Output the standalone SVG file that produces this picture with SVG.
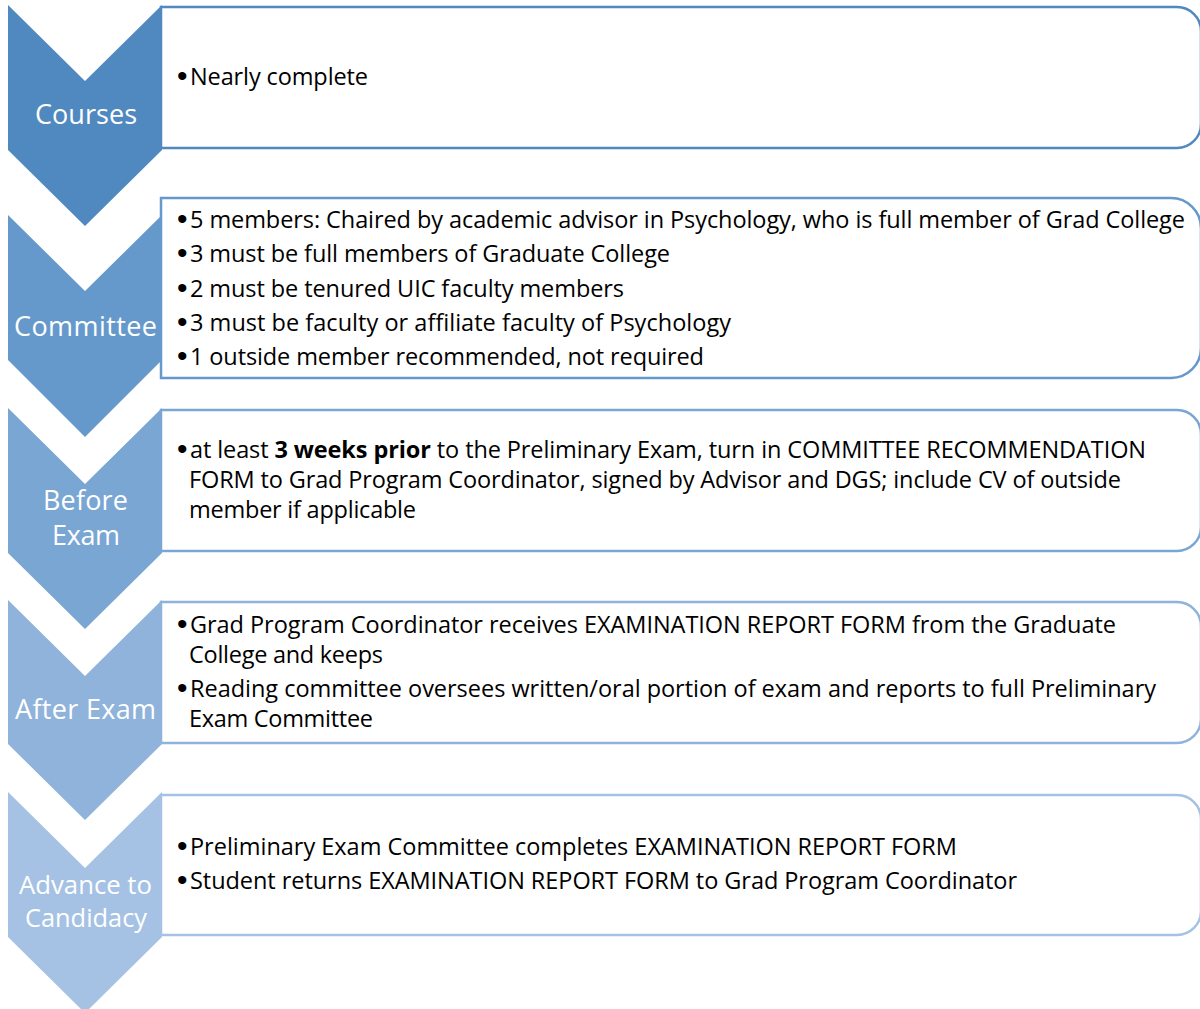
<svg xmlns="http://www.w3.org/2000/svg" width="1200" height="1009" viewBox="0 0 1200 1009">
<style>
.lbl{font-family:"Open Sans","Liberation Sans",sans-serif;font-size:27px;fill:#ffffff;text-anchor:middle}
.lbl2{font-size:25px}
.txt{font-family:"Open Sans","Liberation Sans",sans-serif;font-size:23.5px;fill:#000000}
.bul{font-family:"Liberation Sans","DejaVu Sans",sans-serif;font-size:30px;fill:#000000}
.box{fill:#ffffff;stroke-width:2.5}
</style>
<rect width="1200" height="1009" fill="#ffffff"/>
<g id="step1">
  <path id="chev1" d="M8,5 L85,81 L162,5 V150 L85,226 L8,150 Z" fill="#5089C0"/>
  <path id="box1" class="box" stroke="#5089C0" d="M161,7 H1177 A24,24 0 0 1 1201,31 V124 A24,24 0 0 1 1177,148 H161 Z"/>
  <text class="lbl" x="86" y="124" textLength="102">Courses</text>
  <text class="bul" x="177" y="86">•</text><text class="txt" x="190" y="85" textLength="178">Nearly complete</text>
</g>
<g id="step2">
  <path id="chev2" d="M8,215 L85,291 L162,215 V360 L85,437 L8,360 Z" fill="#6699CB"/>
  <path id="box2" class="box" stroke="#6699CB" d="M161,198 H1171 A30,30 0 0 1 1201,228 V348 A30,30 0 0 1 1171,378 H161 Z"/>
  <text class="lbl" x="85.5" y="336" textLength="143">Committee</text>
  <text class="bul" x="177" y="229">•</text><text class="txt" x="190" y="228" textLength="995">5 members: Chaired by academic advisor in Psychology, who is full member of Grad College</text>
  <text class="bul" x="177" y="263">•</text><text class="txt" x="190" y="262" textLength="480">3 must be full members of Graduate College</text>
  <text class="bul" x="177" y="298">•</text><text class="txt" x="190" y="297" textLength="434">2 must be tenured UIC faculty members</text>
  <text class="bul" x="177" y="332">•</text><text class="txt" x="190" y="331" textLength="541">3 must be faculty or affiliate faculty of Psychology</text>
  <text class="bul" x="177" y="366">•</text><text class="txt" x="190" y="365" textLength="514">1 outside member recommended, not required</text>
</g>
<g id="step3">
  <path id="chev3" d="M8,408 L85,484 L162,408 V553 L85,629 L8,553 Z" fill="#7AA6D3"/>
  <path id="box3" class="box" stroke="#7AA6D3" d="M161,410 H1177 A24,24 0 0 1 1201,434 V527 A24,24 0 0 1 1177,551 H161 Z"/>
  <text class="lbl" x="85.5" y="510" textLength="85">Before</text>
  <text class="lbl" x="86" y="545" textLength="68">Exam</text>
  <text class="bul" x="177" y="459">•</text><text class="txt" x="190" y="458" textLength="956">at least <tspan font-weight="bold">3 weeks prior</tspan> to the Preliminary Exam, turn in COMMITTEE RECOMMENDATION</text>
  <text class="txt" x="189" y="488" textLength="932">FORM to Grad Program Coordinator, signed by Advisor and DGS; include CV of outside</text>
  <text class="txt" x="189" y="518" textLength="227">member if applicable</text>
</g>
<g id="step4">
  <path id="chev4" d="M8,600 L85,676 L162,600 V744 L85,820 L8,744 Z" fill="#8FB3DA"/>
  <path id="box4" class="box" stroke="#8FB3DA" d="M161,602 H1177 A24,24 0 0 1 1201,626 V719 A24,24 0 0 1 1177,743 H161 Z"/>
  <text class="lbl" x="85.5" y="719" textLength="141">After Exam</text>
  <text class="bul" x="177" y="634">•</text><text class="txt" x="190" y="633" textLength="926">Grad Program Coordinator receives EXAMINATION REPORT FORM from the Graduate</text>
  <text class="txt" x="189" y="663" textLength="194">College and keeps</text>
  <text class="bul" x="177" y="698">•</text><text class="txt" x="190" y="697" textLength="966">Reading committee oversees written/oral portion of exam and reports to full Preliminary</text>
  <text class="txt" x="189" y="727" textLength="184">Exam Committee</text>
</g>
<g id="step5">
  <path id="chev5" d="M8,792 L85,868 L162,792 V937 L85,1013 L8,937 Z" fill="#A5C2E4"/>
  <path id="box5" class="box" stroke="#A5C2E4" d="M161,795 H1177 A24,24 0 0 1 1201,819 V911 A24,24 0 0 1 1177,935 H161 Z"/>
  <text class="lbl lbl2" x="85.5" y="894" textLength="133" lengthAdjust="spacingAndGlyphs">Advance to</text>
  <text class="lbl lbl2" x="86" y="927" textLength="122" lengthAdjust="spacingAndGlyphs">Candidacy</text>
  <text class="bul" x="177" y="856">•</text><text class="txt" x="190" y="855" textLength="767">Preliminary Exam Committee completes EXAMINATION REPORT FORM</text>
  <text class="bul" x="177" y="890">•</text><text class="txt" x="190" y="889" textLength="827">Student returns EXAMINATION REPORT FORM to Grad Program Coordinator</text>
</g>
</svg>
